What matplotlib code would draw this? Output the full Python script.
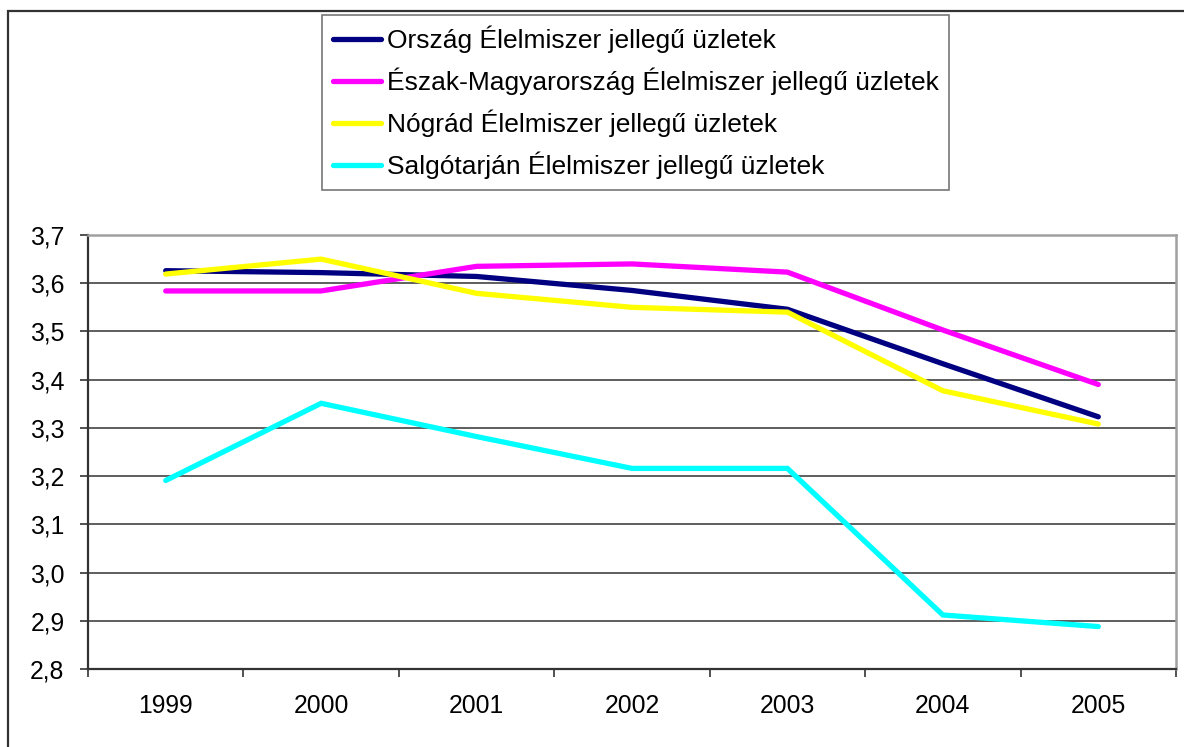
import numpy as np
import matplotlib
matplotlib.use('Agg')
import matplotlib.pyplot as plt
from matplotlib.patches import Rectangle

plt.rcParams['font.family'] = ['Liberation Sans', 'DejaVu Sans']

# Data
years = ['1999', '2000', '2001', '2002', '2003', '2004', '2005']
orszag = [3.626, 3.622, 3.614, 3.585, 3.546, 3.433, 3.323]
eszak = [3.584, 3.584, 3.635, 3.640, 3.623, 3.503, 3.390]
nograd = [3.619, 3.650, 3.579, 3.550, 3.540, 3.377, 3.308]
salgo = [3.191, 3.351, 3.282, 3.216, 3.216, 2.912, 2.888]

labels = ['Ország Élelmiszer jellegű üzletek',
          'Észak-Magyarország Élelmiszer jellegű üzletek',
          'Nógrád Élelmiszer jellegű üzletek',
          'Salgótarján Élelmiszer jellegű üzletek']
colors = ['#000080', '#FF00FF', '#FFFF00', '#00FFFF']

W, H = 1184, 747
fig = plt.figure(figsize=(W / 100, H / 100), dpi=100)

# outer chart frame (only left and top edges visible)
fig.patches.append(Rectangle((8 / W, -0.2), 1.5, 1.2 - 11 / H,
                             transform=fig.transFigure, fill=False,
                             edgecolor='#333333', linewidth=1.6))

ax = fig.add_axes([88 / W, 1 - 669 / H, (1176 - 88) / W, (669 - 235) / H])

x = np.arange(len(years))
for vals, lab, col in zip([orszag, eszak, nograd, salgo], labels, colors):
    ax.plot(x, vals, color=col, linewidth=3.8, label=lab,
            solid_capstyle='round', solid_joinstyle='miter')

ax.set_xlim(-0.5, len(years) - 0.5)
ax.set_ylim(2.8, 3.7)
yt = np.round(np.arange(2.8, 3.71, 0.1), 1)
ax.set_yticks(yt)
ax.set_yticklabels([f'{v:.1f}'.replace('.', ',') for v in yt])
ax.yaxis.grid(True, color='#333333', linewidth=1.1)
ax.set_axisbelow(True)

ax.set_xticks(np.arange(-0.5, len(years), 1.0))
ax.set_xticklabels([])
ax.set_xticks(x, minor=True)
ax.set_xticklabels(years, minor=True)
ax.tick_params(axis='x', which='major', direction='out', length=6, width=1.2, color='#333333')
ax.tick_params(axis='x', which='minor', length=0, pad=18, labelsize=17.8)
ax.tick_params(axis='y', direction='out', length=6, width=1.2, color='#333333',
               pad=11, labelsize=17.8)

for s in ['left', 'bottom']:
    ax.spines[s].set_color('#333333')
    ax.spines[s].set_linewidth(1.6)
for s in ['top', 'right']:
    ax.spines[s].set_color('#A0A0A0')
    ax.spines[s].set_linewidth(1.8)

leg = ax.legend(loc='upper left', bbox_to_anchor=(322 / W, 1 - 15 / H),
                bbox_transform=fig.transFigure, fontsize=19, frameon=True,
                fancybox=False, edgecolor='#555555', handlelength=1.85,
                handletextpad=0.2, labelspacing=0.55, borderpad=0.4,
                borderaxespad=0)
leg.get_frame().set_linewidth(1.2)
for h in leg.get_lines():
    h.set_linewidth(3.8)

fig.savefig('out.png', dpi=100)
